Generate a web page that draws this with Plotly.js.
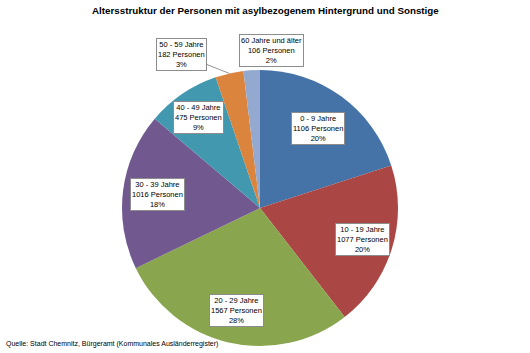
<!DOCTYPE html>
<html>
<head>
<meta charset="utf-8">
<script src="https://cdn.plot.ly/plotly-3.0.1.min.js"></script>
<style>html,body{margin:0;padding:0;background:#fff;}#chart{width:530px;height:353px;}</style>
</head>
<body>
<div id="chart"></div>
<script>
// Data
const ageGroups = ["0 - 9 Jahre", "10 - 19 Jahre", "20 - 29 Jahre", "30 - 39 Jahre", "40 - 49 Jahre", "50 - 59 Jahre", "60 Jahre und älter"];
const persons = [1106, 1077, 1567, 1016, 475, 182, 106];
const percentLabels = ["20%", "20%", "28%", "18%", "9%", "3%", "2%"];

const colors = ["#4572A7", "#AA4643", "#89A54E", "#71588F", "#4198AF", "#DB843D", "#93A9CF"];

const W = 530, H = 353;
const cx = 260, cy = 208, R = 138;

// label placement (radial fraction of radius, or explicit offset for small outside slices)
const labelRadius = [0.71, 0.78, 0.76, 0.75, 0.79, null, null];
const outsideOffset = [null, null, null, null, null, [-48, -19], [20, -20]];
const showLeader = [false, false, false, false, false, true, false];

const total = persons.reduce((a, b) => a + b, 0);
let cum = 0;
const annotations = [];
function px(x, y) { return { x: x / W, y: 1 - y / H }; }

persons.forEach((v, i) => {
  const mid = (cum + v / 2) / total * 2 * Math.PI;
  cum += v;
  const text = ageGroups[i] + "<br>" + v + " Personen<br>" + percentLabels[i];
  const base = {
    text: text, xref: "paper", yref: "paper",
    font: { family: "Liberation Sans, Arial, sans-serif", size: 7.5, color: "#000" },
    bgcolor: "#ffffff", bordercolor: "#8c8c8c", borderwidth: 1, borderpad: 1,
    align: "center", xanchor: "center", yanchor: "middle"
  };
  if (labelRadius[i] !== null) {
    const p = px(cx + labelRadius[i] * R * Math.sin(mid), cy - labelRadius[i] * R * Math.cos(mid));
    annotations.push(Object.assign(base, { x: p.x, y: p.y, showarrow: false }));
  } else {
    const ex = cx + R * Math.sin(mid), ey = cy - R * Math.cos(mid);
    const p = px(ex, ey);
    annotations.push(Object.assign(base, {
      x: p.x, y: p.y, showarrow: true, arrowhead: 0, arrowwidth: 0.7,
      arrowcolor: showLeader[i] ? "#666" : "rgba(0,0,0,0)",
      ax: outsideOffset[i][0], ay: outsideOffset[i][1], standoff: 0
    }));
  }
});

annotations.push({
  text: "<b>Altersstruktur der Personen mit asylbezogenem Hintergrund und Sonstige</b>",
  xref: "paper", yref: "paper", x: 265 / W, y: 1 - 11 / H, showarrow: false,
  xanchor: "center", yanchor: "middle",
  font: { family: "Liberation Sans, Arial, sans-serif", size: 9.8, color: "#000" }
});
annotations.push({
  text: "Quelle: Stadt Chemnitz, Bürgeramt (Kommunales Ausländerregister)",
  xref: "paper", yref: "paper", x: 4 / W, y: 1 - 344 / H, showarrow: false,
  xanchor: "left", yanchor: "middle",
  font: { family: "Liberation Sans, Arial, sans-serif", size: 7, color: "#000" }
});

const trace = {
  type: "pie",
  labels: ageGroups,
  values: persons,
  sort: false,
  direction: "clockwise",
  rotation: 0,
  textinfo: "none",
  hoverinfo: "label+value+percent",
  marker: { colors: colors, line: { width: 0 } },
  domain: { x: [(cx - R) / W, (cx + R) / W], y: [1 - (cy + R) / H, 1 - (cy - R) / H] },
  showlegend: false
};

const layout = {
  width: W, height: H,
  margin: { l: 0, r: 0, t: 0, b: 0 },
  paper_bgcolor: "#fff",
  showlegend: false,
  annotations: annotations
};

Plotly.newPlot("chart", [trace], layout, { staticPlot: true, displayModeBar: false });
</script>
</body>
</html>
